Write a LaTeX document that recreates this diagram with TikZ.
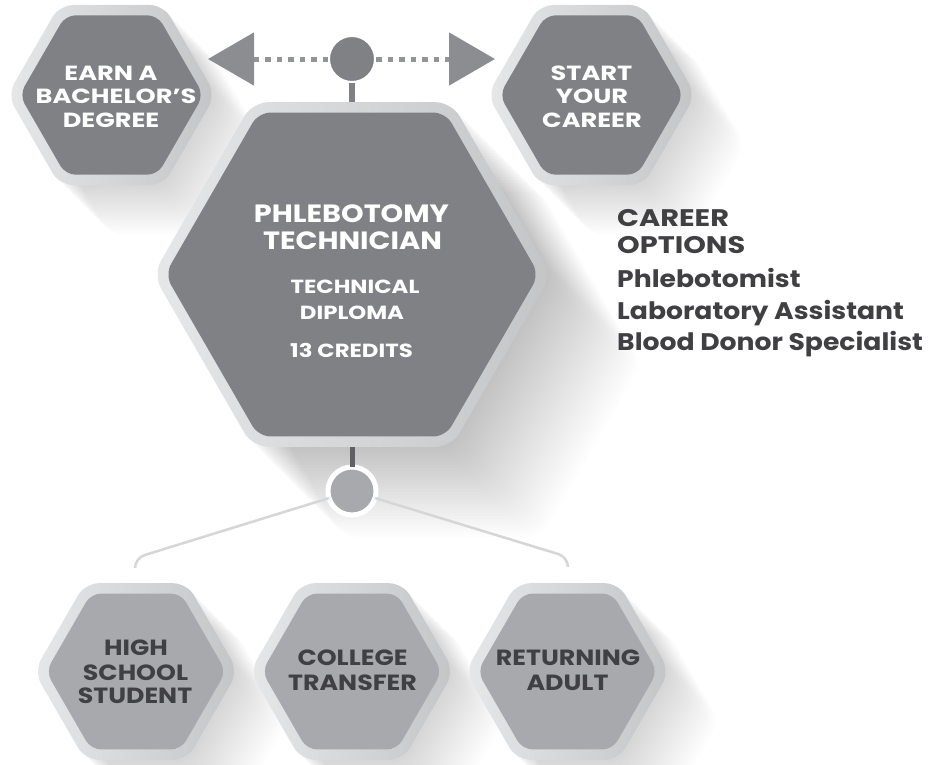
\documentclass[tikz,border=0pt]{standalone}
\usepackage{fontspec}
\usepackage{graphicx}
\setmainfont{Poppins}
\usetikzlibrary{arrows.meta}
\definecolor{hexdark}{HTML}{808184}
\definecolor{hexlight}{HTML}{A7A9AC}
\definecolor{bordL}{HTML}{E6E7E8}
\definecolor{bordR}{HTML}{C4C5C7}
\definecolor{txtdark}{HTML}{404043}
\definecolor{arrowgray}{HTML}{8C8D90}
\definecolor{dotgray}{HTML}{939497}
\definecolor{linegray}{HTML}{D5D6D7}
\definecolor{stemdark}{HTML}{5F6063}
\newcommand\hexpath[3]{({#1+#3},{#2}) -- ({#1+0.5*#3},{#2-0.866*#3}) -- ({#1-0.5*#3},{#2-0.866*#3}) -- ({#1-#3},{#2}) -- ({#1-0.5*#3},{#2+0.866*#3}) -- ({#1+0.5*#3},{#2+0.866*#3}) -- cycle}
% cx, cy, Rout, Rin, fill
\newcommand\hexagonshape[5]{%
  \shade[left color=bordL, right color=bordR, rounded corners=14pt] \hexpath{#1}{#2}{#3};
  \fill[#5, rounded corners=10pt] \hexpath{#1}{#2}{#4};
}
% cx, cy, R, steps, stepsize
\newcommand\hexshadow[5]{%
  \foreach \k in {1,...,#4}{
    \fill[black, opacity=0.0065, rounded corners=14pt] \hexpath{#1+\k*#5}{#2+\k*#5}{#3};
  }
}
\newcommand\xs[2]{\scalebox{#1}[1]{#2}}
\begin{document}
\begin{tikzpicture}[x=1pt,y=-1pt,
  wt/.style={anchor=base, inner sep=0pt, text=white, font=\bfseries\fontsize{20.5}{22}\selectfont},
  wbig/.style={anchor=base, inner sep=0pt, text=white, font=\bfseries\fontsize{25}{27}\selectfont},
  wsub/.style={anchor=base, inner sep=0pt, text=white, font=\bfseries\fontsize{19}{21}\selectfont},
  dt/.style={anchor=base, inner sep=0pt, text=txtdark, font=\bfseries\fontsize{22}{24}\selectfont},
  opt/.style={anchor=base west, inner sep=0pt, text=txtdark, font=\bfseries\fontsize{24}{26}\selectfont},
  dotline/.style={draw=dotgray, line width=5pt, dash pattern=on 5.5pt off 6pt},
  conn/.style={draw=linegray, line width=2.5pt, rounded corners=10pt},
  ]
\useasboundingbox (0,0) rectangle (934,764);
\fill[white] (0,0) rectangle (934,764);

% shadows
\hexshadow{111.5}{95}{104}{20}{2.5}
\hexshadow{591.5}{95}{104}{20}{2.5}
\hexshadow{352}{274.5}{199}{30}{3}
\hexshadow{136}{671.5}{102}{20}{2.5}
\hexshadow{352}{671.5}{102}{20}{2.5}
\hexshadow{567.5}{671.5}{102}{20}{2.5}

% hexagons
\hexagonshape{111.5}{95}{104}{92}{hexdark}
\hexagonshape{591.5}{95}{104}{92}{hexdark}
\shade[left color=bordL, right color=bordR, rounded corners=16pt] \hexpath{352}{274.5}{199};
\fill[hexdark, rounded corners=12pt] \hexpath{352}{274.5}{187};
\hexagonshape{136}{671.5}{102}{90}{hexlight}
\hexagonshape{352}{671.5}{102}{90}{hexlight}
\hexagonshape{567.5}{671.5}{102}{90}{hexlight}

% named points
\coordinate (bigTop) at (352,102);
\coordinate (bigBot) at (352,447);
\coordinate (tipL) at (208,59);
\coordinate (tipR) at (495,59);
\coordinate (lcorner) at (135,558);
\coordinate (lend) at (135,568);
\coordinate (rcorner) at (568,557);
\coordinate (rend) at (568,567);

% circles
\node[circle, fill=hexdark, draw=white, line width=4pt, minimum size=48pt, inner sep=0pt, outer sep=0pt] (ctop) at (352,59) {};
\node[circle, fill=hexlight, draw=white, line width=5pt, minimum size=48pt, inner sep=0pt, outer sep=0pt] (cbot) at (352,491) {};

% connectors
\draw[dotline, -{Triangle[length=46pt,width=52pt,color=arrowgray,fill=arrowgray]}] (ctop) -- (tipL);
\draw[dotline, -{Triangle[length=46pt,width=52pt,color=arrowgray,fill=arrowgray]}] (ctop) -- (tipR);
\draw[hexdark, line width=6pt] (ctop) -- (bigTop);
\draw[stemdark, line width=5pt] (bigBot) -- (cbot);
\draw[conn] (cbot) -- (lcorner) -- (lend);
\draw[conn] (cbot) -- (rcorner) -- (rend);

% texts top-left
\node[wt] (t1a) at (111,80) {\xs{1.25}{EARN A}};
\node[wt] (t1b) at (116,103) {\xs{1.25}{BACHELOR’S}};
\node[wt] (t1c) at (111,127) {\xs{1.25}{DEGREE}};
% top-right
\node[wt] (t2a) at (591.5,80) {\xs{1.25}{START}};
\node[wt] (t2b) at (592,103) {\xs{1.25}{YOUR}};
\node[wt] (t2c) at (592,127) {\xs{1.25}{CAREER}};
% big
\node[wbig] (t3a) at (351.5,222.7) {\xs{1.15}{PHLEBOTOMY}};
\node[wbig] (t3b) at (352.5,249) {\xs{1.15}{TECHNICIAN}};
\node[wsub] (t3c) at (355,293) {\xs{1.2}{TECHNICAL}};
\node[wsub] (t3d) at (352,319) {\xs{1.2}{DIPLOMA}};
\node[wsub] (t3e) at (351.5,357) {\xs{1.2}{13 CREDITS}};
% career options
\node[opt] (o1) at (617,226.7) {\xs{1.2}{CAREER}};
\node[opt] (o2) at (617,253) {\xs{1.2}{OPTIONS}};
\node[opt] (o3) at (617,287) {\xs{1.11}{Phlebotomist}};
\node[opt] (o4) at (617,319) {\xs{1.11}{Laboratory Assistant}};
\node[opt] (o5) at (617,350) {\xs{1.11}{Blood Donor Specialist}};
% bottom
\node[dt] (b1a) at (136,655) {\xs{1.15}{HIGH}};
\node[dt] (b1b) at (135.5,680) {\xs{1.15}{SCHOOL}};
\node[dt] (b1c) at (135,703) {\xs{1.15}{STUDENT}};
\node[dt] (b2a) at (352.5,665) {\xs{1.15}{COLLEGE}};
\node[dt] (b2b) at (352.5,690) {\xs{1.15}{TRANSFER}};
\node[dt] (b3a) at (568,665) {\xs{1.15}{RETURNING}};
\node[dt] (b3b) at (567.5,690) {\xs{1.15}{ADULT}};
\end{tikzpicture}
\end{document}
